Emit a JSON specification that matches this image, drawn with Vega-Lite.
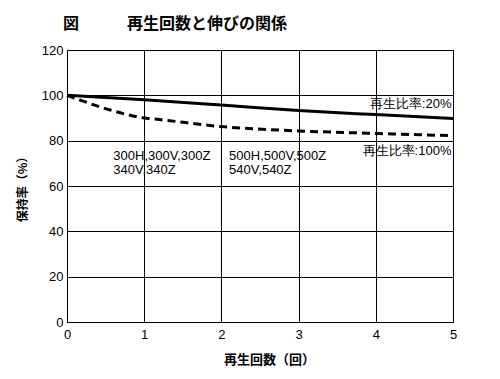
{
  "$schema": "https://vega.github.io/schema/vega-lite/v6.json",
  "width": 386,
  "height": 272,
  "autosize": "none",
  "padding": {"left": 67, "top": 50, "right": 47, "bottom": 57},
  "background": "white",
  "config": {
    "view": {"stroke": "black", "strokeWidth": 1},
    "font": "Liberation Sans"
  },
  "title": {
    "text": "図　　　再生回数と伸びの関係",
    "anchor": "start",
    "frame": "group",
    "font": "Noto Sans CJK JP",
    "fontSize": 16,
    "fontWeight": "bold",
    "color": "black",
    "offset": 12,
    "dx": -4
  },
  "datasets": {
    "lines": [
      {"n": 0, "v": 100, "s": "20%"},
      {"n": 1, "v": 98, "s": "20%"},
      {"n": 2, "v": 95.7, "s": "20%"},
      {"n": 3, "v": 93.3, "s": "20%"},
      {"n": 4, "v": 91.5, "s": "20%"},
      {"n": 5, "v": 89.8, "s": "20%"},
      {"n": 0, "v": 100, "s": "100%"},
      {"n": 0.17, "v": 97.9, "s": "100%"},
      {"n": 0.56, "v": 93.5, "s": "100%"},
      {"n": 1, "v": 90, "s": "100%"},
      {"n": 1.2, "v": 89.3, "s": "100%"},
      {"n": 2, "v": 86.2, "s": "100%"},
      {"n": 3, "v": 84.3, "s": "100%"},
      {"n": 4, "v": 83.2, "s": "100%"},
      {"n": 5, "v": 82.2, "s": "100%"}
    ],
    "labels": [
      {"n": 4.98, "v": 94.3, "t": "再生比率:20%", "a": "right"},
      {"n": 4.98, "v": 73.5, "t": "再生比率:100%", "a": "right"},
      {"n": 0.6, "v": 71.5, "t": "300H,300V,300Z", "a": "left"},
      {"n": 0.6, "v": 65.3, "t": "340V,340Z", "a": "left"},
      {"n": 2.1, "v": 71.5, "t": "500H,500V,500Z", "a": "left"},
      {"n": 2.1, "v": 65.3, "t": "540V,540Z", "a": "left"}
    ]
  },
  "layer": [
    {
      "data": {"name": "lines"},
      "transform": [{"filter": "datum.s === '20%'"}],
      "mark": {"type": "line", "color": "black", "strokeWidth": 3, "interpolate": "monotone"},
      "encoding": {
        "x": {
          "field": "n", "type": "quantitative",
          "scale": {"domain": [0, 5], "nice": false},
          "axis": {
            "values": [0, 1, 2, 3, 4, 5], "format": "d", "title": "再生回数（回）",
            "titleFont": "Noto Sans CJK JP", "titleFontSize": 13, "titleFontWeight": "bold",
            "titleColor": "black", "titlePadding": 12, "titleX": 202,
            "labelFontSize": 13, "labelColor": "black", "labelPadding": 6, "labelFlush": false,
            "ticks": false, "domainColor": "black",
            "grid": true, "gridColor": "black", "gridOpacity": 1, "gridWidth": 1
          }
        },
        "y": {
          "field": "v", "type": "quantitative",
          "scale": {"domain": [0, 120], "nice": false},
          "axis": {
            "values": [0, 20, 40, 60, 80, 100, 120], "title": "保持率（%）",
            "titleFont": "Noto Sans CJK JP", "titleFontSize": 12, "titleFontWeight": "bold",
            "titleColor": "black", "titlePadding": 12,
            "labelFontSize": 13, "labelColor": "black", "labelPadding": 4, "labelFlush": false,
            "ticks": false, "domainColor": "black",
            "grid": true, "gridColor": "black", "gridOpacity": 1, "gridWidth": 1
          }
        }
      }
    },
    {
      "data": {"name": "lines"},
      "transform": [{"filter": "datum.s === '100%'"}],
      "mark": {"type": "line", "color": "black", "strokeWidth": 3, "strokeDash": [8, 5], "interpolate": "monotone"},
      "encoding": {
        "x": {"field": "n", "type": "quantitative"},
        "y": {"field": "v", "type": "quantitative"}
      }
    },
    {
      "data": {"name": "labels"},
      "transform": [{"filter": "datum.a === 'right'"}],
      "mark": {"type": "text", "fontSize": 13, "color": "black", "baseline": "alphabetic", "align": "right", "font": "Liberation Sans"},
      "encoding": {
        "x": {"field": "n", "type": "quantitative"},
        "y": {"field": "v", "type": "quantitative"},
        "text": {"field": "t"}
      }
    },
    {
      "data": {"name": "labels"},
      "transform": [{"filter": "datum.a === 'left'"}],
      "mark": {"type": "text", "fontSize": 13, "color": "black", "baseline": "alphabetic", "align": "left", "font": "Liberation Sans"},
      "encoding": {
        "x": {"field": "n", "type": "quantitative"},
        "y": {"field": "v", "type": "quantitative"},
        "text": {"field": "t"}
      }
    }
  ]
}
